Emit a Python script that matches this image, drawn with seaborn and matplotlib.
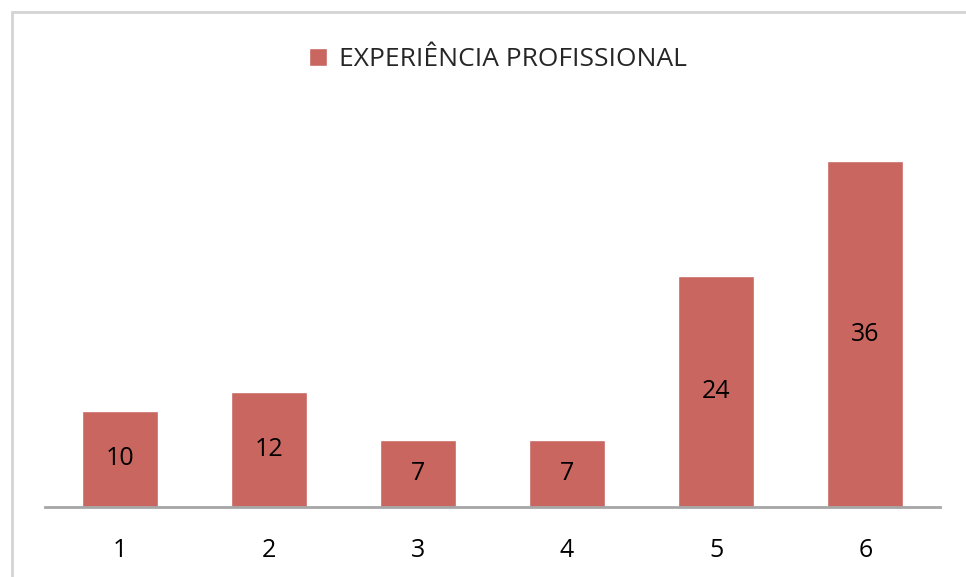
import matplotlib
matplotlib.use('Agg')
import matplotlib.pyplot as plt
import seaborn as sns
import pandas as pd
from matplotlib.patches import Rectangle

categorias = ['1', '2', '3', '4', '5', '6']
valores = [10, 12, 7, 7, 24, 36]
serie = 'EXPERIÊNCIA PROFISSIONAL'

sns.set_style('white')
plt.rcParams['font.family'] = ['Open Sans', 'DejaVu Sans']

df = pd.DataFrame({'cat': categorias, 'val': valores})

W, H = 966, 577
fig = plt.figure(figsize=(W / 100, H / 100), dpi=100)
ax = fig.add_axes([45 / W, 1 - 507 / H, (940 - 45) / W, (507 - 122.6) / H])

sns.barplot(data=df, x='cat', y='val', color='#C9665F', saturation=1,
            width=0.51, label=serie, ax=ax)
ax.set_xlim(-0.5, 5.5)
ax.set_ylim(0, 40)
ax.bar_label(ax.containers[0], label_type='center', fontsize=18, color='black')

for s in ['top', 'right', 'left']:
    ax.spines[s].set_visible(False)
ax.spines['bottom'].set_color('#a6a6a6')
ax.spines['bottom'].set_linewidth(2)
ax.set_yticks([])
ax.set_xlabel('')
ax.set_ylabel('')
ax.tick_params(axis='x', length=0, pad=22, labelsize=18, labelcolor='black')

if ax.get_legend() is not None:
    ax.get_legend().remove()
h, l = ax.get_legend_handles_labels()
fig.legend(h, l, loc='center', bbox_to_anchor=(498 / W, 1 - 60 / H),
           frameon=False, fontsize=19, handlelength=0.65, handleheight=0.65,
           handletextpad=0.45)

# moldura do gráfico (cortada à direita e em baixo)
fig.patches.append(Rectangle((12 / W, -0.1), 1.2, 1 - 12 / H + 0.1,
                             transform=fig.transFigure, fill=False,
                             edgecolor='#d4d4d4', linewidth=2))

fig.savefig('out.png', dpi=100)
